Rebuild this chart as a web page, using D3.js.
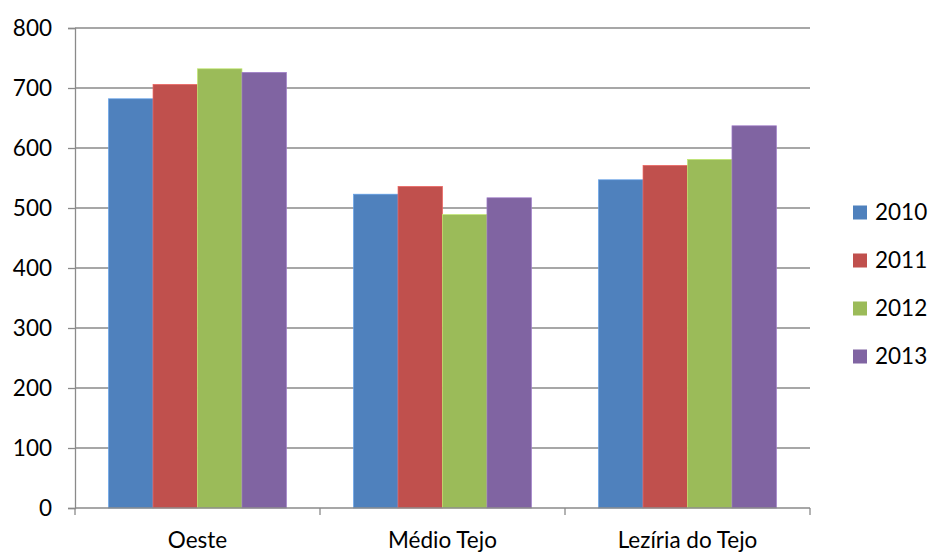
<!DOCTYPE html>
<html><head><meta charset="utf-8">
<script src="https://cdn.jsdelivr.net/npm/d3@7"></script>
<style>body{margin:0;background:#fff;} svg{display:block;}</style>
</head><body>
<svg id="c" width="931" height="553"></svg>
<script>
const categories = ["Oeste", "Médio Tejo", "Lezíria do Tejo"];
const seriesNames = ["2010", "2011", "2012", "2013"];
const colors = ["#4F81BD", "#C0504D", "#9BBB59", "#8064A2"];
const v2010 = [682, 523, 547];
const v2011 = [706, 536, 571];
const v2012 = [732, 489, 581];
const v2013 = [726, 517, 637];
const yTicks = [0, 100, 200, 300, 400, 500, 600, 700, 800];

(function () {
const seriesValues = [v2010, v2011, v2012, v2013];
const font = "Lato, 'Open Sans', sans-serif";
const fs = 22.5;
const svg = d3.select("#c");
const pLeft = 75, pRight = 810, pTop = 28, pBottom = 508;

const x = d3.scaleBand().domain(categories).range([pLeft, pRight]).padding(0);
const y = d3.scaleLinear().domain([0, 800]).range([pBottom, pTop]);
const gap = x.bandwidth() * 0.137;
const xs = d3.scaleBand().domain(seriesNames).range([gap, x.bandwidth() - gap]).padding(0);

// gridlines
svg.append("g").selectAll("line").data(yTicks.filter(d => d > 0)).join("line")
  .attr("x1", pLeft).attr("x2", pRight)
  .attr("y1", d => y(d)).attr("y2", d => y(d))
  .attr("stroke", "#8a8a8a").attr("stroke-width", 1.3);

// bars
seriesNames.forEach((s, si) => {
  svg.append("g").selectAll("rect").data(categories).join("rect")
    .attr("x", c => x(c) + xs(s))
    .attr("y", (c, i) => y(seriesValues[si][i]))
    .attr("width", xs.bandwidth())
    .attr("height", (c, i) => pBottom - y(seriesValues[si][i]))
    .attr("fill", colors[si])
    .attr("stroke", d3.color(colors[si]).brighter(0.6))
    .attr("stroke-width", 0.7);
});

// y axis
const yAxis = d3.axisLeft(y).tickValues(yTicks).tickSize(7).tickPadding(16);
const gy = svg.append("g").attr("transform", `translate(${pLeft},0)`).call(yAxis);
gy.select(".domain").attr("stroke", "#8a8a8a").attr("stroke-width", 1.3);
gy.selectAll(".tick line").attr("stroke", "#8a8a8a").attr("stroke-width", 1.3);
gy.selectAll("text").attr("font-family", font).attr("font-size", fs).attr("fill", "#000");

// x axis
const xBounds = d3.scaleLinear().domain([0, categories.length]).range([pLeft, pRight]);
const gx = svg.append("g").attr("transform", `translate(0,${pBottom})`);
gx.append("line").attr("x1", pLeft).attr("x2", pRight).attr("stroke", "#8a8a8a").attr("stroke-width", 1.3);
gx.selectAll(".tk").data(d3.range(categories.length + 1)).join("line").attr("class", "tk")
  .attr("x1", d => xBounds(d)).attr("x2", d => xBounds(d)).attr("y1", 0).attr("y2", 7)
  .attr("stroke", "#8a8a8a").attr("stroke-width", 1.3);
gx.selectAll("text.lab").data(categories).join("text").attr("class", "lab")
  .attr("x", c => x(c) + x.bandwidth() / 2).attr("y", 40)
  .attr("text-anchor", "middle").attr("font-family", font).attr("font-size", fs).attr("fill", "#000")
  .text(c => c);

// legend
const lg = svg.append("g");
seriesNames.forEach((s, i) => {
  const cy = 212.5 + i * 48;
  lg.append("rect").attr("x", 853).attr("y", cy - 7).attr("width", 14).attr("height", 14).attr("fill", colors[i]);
  lg.append("text").attr("x", 875).attr("y", cy).attr("dy", "0.35em")
    .attr("font-family", font).attr("font-size", fs).attr("fill", "#000").text(s);
});
})();
</script>
</body></html>
